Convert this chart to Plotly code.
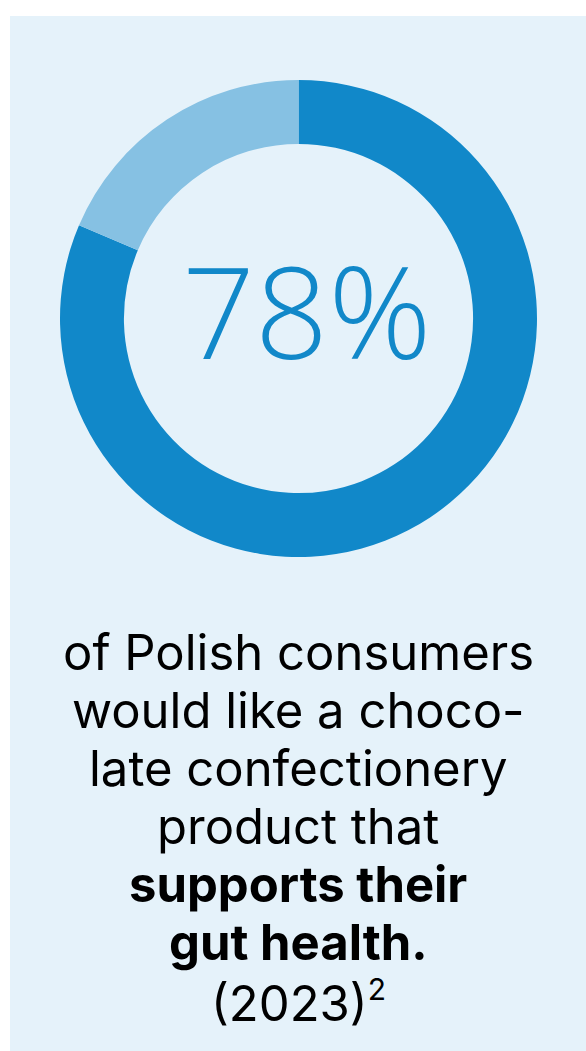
import plotly.graph_objects as go

W, H = 586, 1051

# Data (as drawn in the ring)
segments = ["Would like gut-health chocolate product", "Other"]
shares = [81.4, 18.6]
seg_colors = ["#1188C9", "#86C1E3"]
headline = "78%"
body_lines = [
    "of Polish consumers",
    "would like a choco-",
    "late confectionery",
    "product that",
    "<b>supports their</b>",
    "<b>gut health.</b>",
    "(2023)<sup><span style='font-size:30px'>2</span></sup>",
]
body_baselines = [670, 728, 786, 844, 902, 960, 1020]

def px(x):
    return x / W

def py(y):
    return 1 - y / H

fig = go.Figure()
fig.add_trace(go.Pie(
    labels=segments, values=shares, sort=False, direction="clockwise",
    rotation=0, hole=0.732, textinfo="none", hoverinfo="label+percent",
    marker=dict(colors=seg_colors, line=dict(width=0)),
    domain=dict(x=[px(60), px(537)], y=[py(557), py(80)]),
    showlegend=False,
))

fig.add_shape(type="rect", xref="paper", yref="paper",
              x0=px(10), x1=1.0, y0=0.0, y1=py(16),
              fillcolor="#E5F2FA", line=dict(width=0), layer="below")

fig.add_annotation(x=px(306), y=py(309), xref="paper", yref="paper",
                   text=headline, showarrow=False, xanchor="center", yanchor="middle",
                   font=dict(family="Open Sans", size=128, color="#1188C9", weight=300))

for line, base in zip(body_lines, body_baselines):
    fig.add_annotation(x=px(298), y=py(base - 18), xref="paper", yref="paper",
                       text=line, showarrow=False, xanchor="center", yanchor="middle",
                       font=dict(family="Inter", size=49, color="#000000"))

fig.update_layout(width=W, height=H, margin=dict(l=0, r=0, t=0, b=0),
                  paper_bgcolor="#FFFFFF", plot_bgcolor="#FFFFFF")
fig.write_html("out.html")
